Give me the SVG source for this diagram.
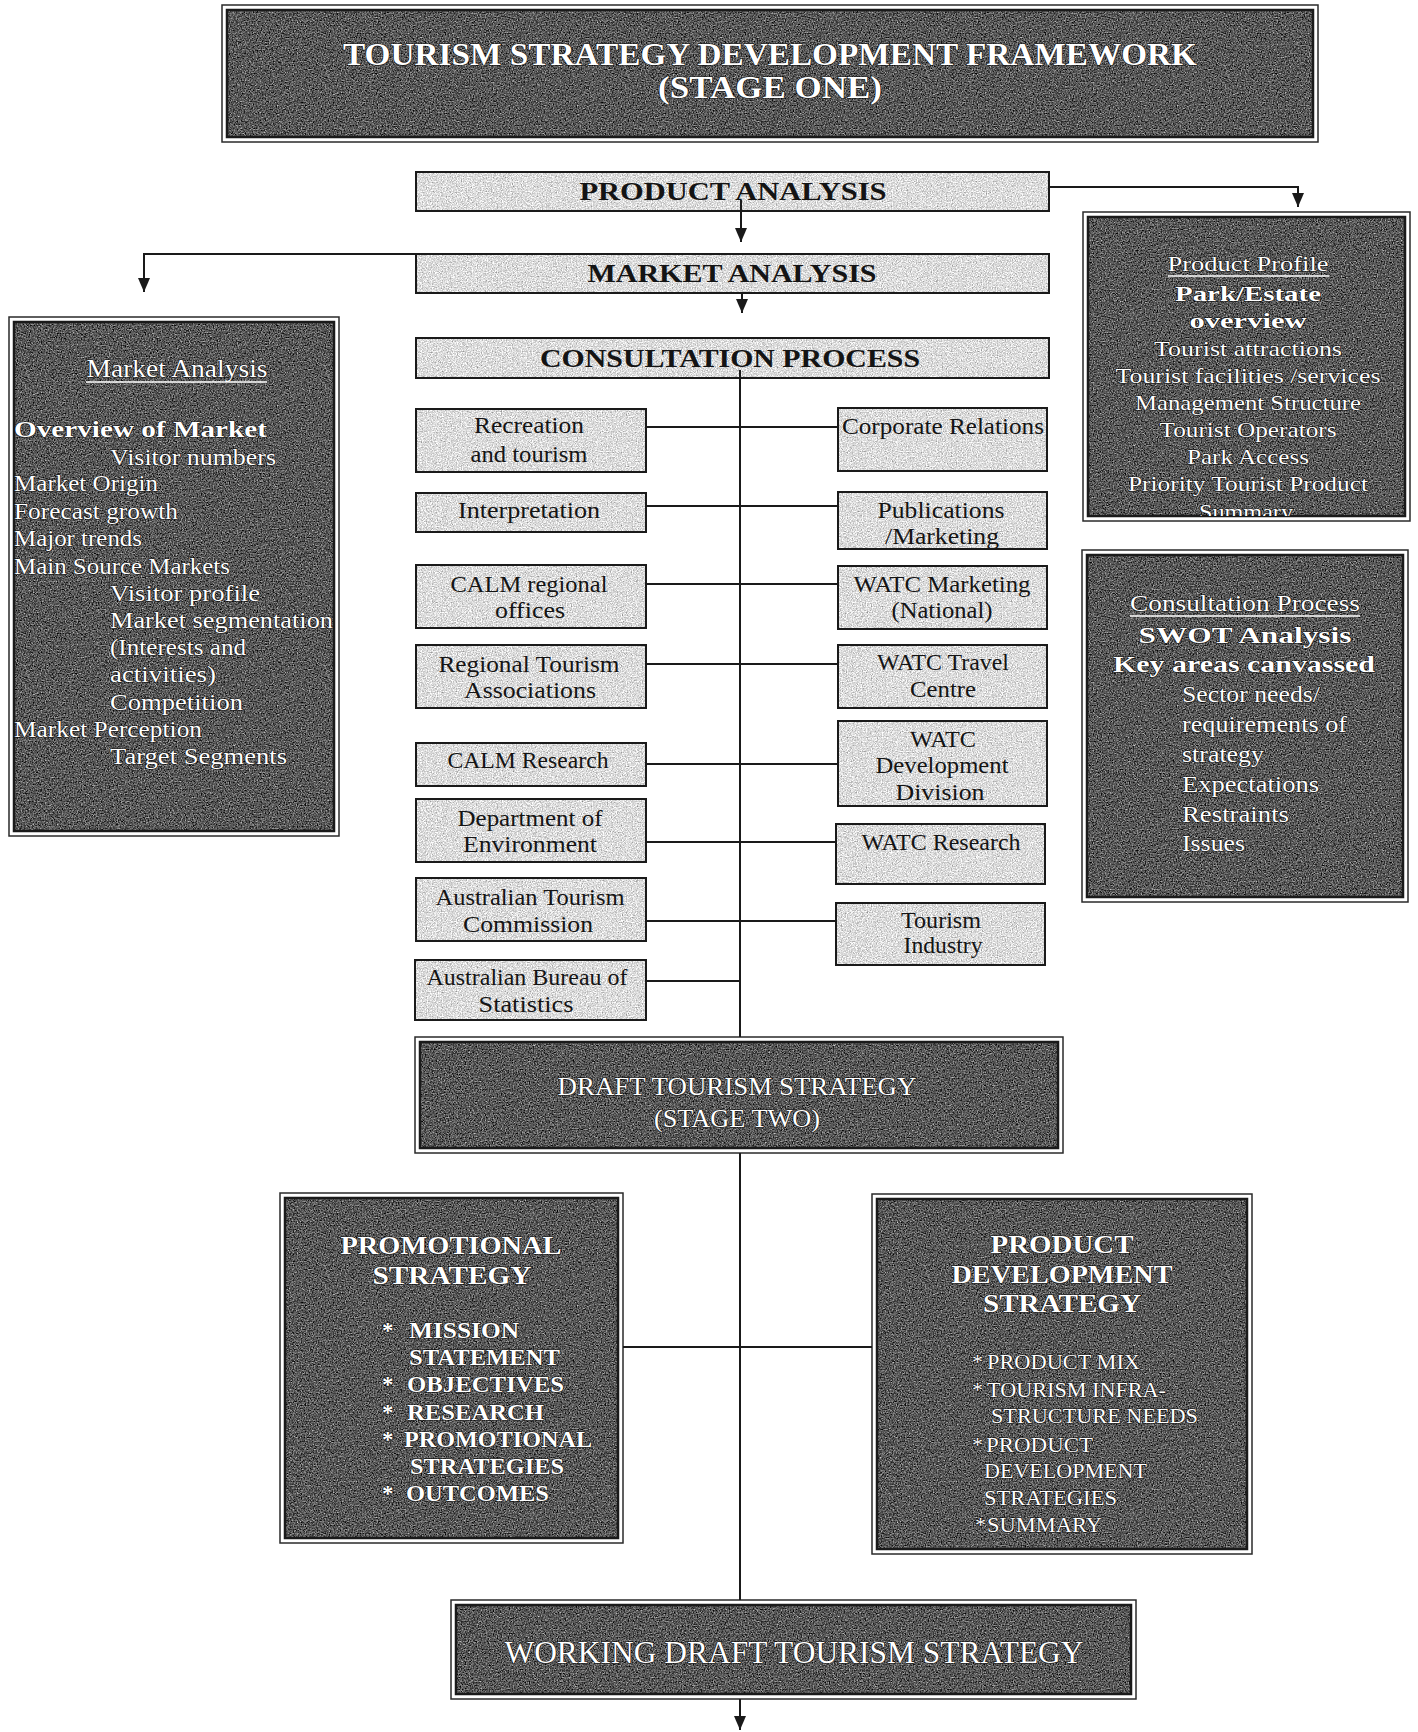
<svg xmlns="http://www.w3.org/2000/svg" width="1418" height="1732" viewBox="0 0 1418 1732">
<defs>
<style>
.out{fill:#fff;stroke:#2a2a2a;stroke-width:1.5}
.din{fill:url(#pD);stroke:#1a1a1a;stroke-width:2.5}
.lb{fill:url(#pL);stroke:#1a1a1a;stroke-width:2}
.conn{fill:none;stroke:#1a1a1a;stroke-width:2}
.tw{font-family:"Liberation Serif","Times New Roman",serif;fill:#fff;stroke:#111;stroke-width:1.2;paint-order:stroke;}
.tk{font-family:"Liberation Serif","Times New Roman",serif;fill:#141414;}
.b{font-weight:bold}
.m{text-anchor:middle}
.ul{stroke:#fff;stroke-width:1.6}
</style>
<filter id="fD" color-interpolation-filters="sRGB">
<feTurbulence type="fractalNoise" baseFrequency="0.75" numOctaves="3" seed="4"/>
<feColorMatrix type="matrix" values="0.6 0.6 0.6 0 -0.56  0.6 0.6 0.6 0 -0.56  0.6 0.6 0.6 0 -0.56  0 0 0 0 1"/>
<feComposite in2="SourceGraphic" operator="in"/>
</filter>
<filter id="fL" color-interpolation-filters="sRGB">
<feTurbulence type="fractalNoise" baseFrequency="0.8" numOctaves="2" seed="7"/>
<feColorMatrix type="matrix" values="0.42 0.42 0.42 0 0.23  0.42 0.42 0.42 0 0.23  0.42 0.42 0.42 0 0.23  0 0 0 0 1"/>
<feComposite in2="SourceGraphic" operator="in"/>
</filter>
<pattern id="pD" patternUnits="userSpaceOnUse" width="300" height="300">
<rect width="300" height="300" fill="#505050"/>
<rect width="300" height="300" fill="#000" filter="url(#fD)"/>
</pattern>
<pattern id="pL" patternUnits="userSpaceOnUse" width="300" height="300">
<rect width="300" height="300" fill="#dcdcdc"/>
<rect width="300" height="300" fill="#000" filter="url(#fL)"/>
</pattern>
<marker id="ah" markerUnits="userSpaceOnUse" markerWidth="14" markerHeight="12" refX="14" refY="6" orient="auto"><path d="M0,0 L14,6 L0,12 z" fill="#1a1a1a"/></marker>
<clipPath id="cpPP"><rect x="1088" y="217" width="317" height="299"/></clipPath>
<clipPath id="cpPub"><rect x="838" y="492" width="209" height="56"/></clipPath>
</defs>
<rect width="1418" height="1732" fill="#fff"/>

<g id="title">
<rect class="out" x="222" y="5" width="1096" height="137"/>
<rect class="din" x="227" y="10" width="1086" height="127"/>
<text class="tw b m" x="770" y="65" font-size="32" stroke-width="1.5" textLength="854" lengthAdjust="spacingAndGlyphs">TOURISM STRATEGY DEVELOPMENT FRAMEWORK</text>
<text class="tw b m" x="770" y="98" font-size="32" stroke-width="1.5" textLength="224" lengthAdjust="spacingAndGlyphs">(STAGE  ONE)</text>
</g>

<g id="product-analysis">
<rect class="lb" x="416" y="172" width="633" height="39"/>
<text class="tk b m" x="733" y="200" font-size="25" textLength="307" lengthAdjust="spacingAndGlyphs">PRODUCT  ANALYSIS</text>
</g>

<g id="market-analysis">
<rect class="lb" x="416" y="254" width="633" height="39"/>
<text class="tk b m" x="732" y="282" font-size="25" textLength="289" lengthAdjust="spacingAndGlyphs">MARKET  ANALYSIS</text>
</g>

<g id="consultation-process">
<rect class="lb" x="416" y="338" width="633" height="40"/>
<text class="tk b m" x="730" y="367" font-size="25" textLength="380" lengthAdjust="spacingAndGlyphs">CONSULTATION  PROCESS</text>
</g>

<g id="market-analysis-detail">
<rect class="out" x="9" y="317" width="330" height="519"/>
<rect class="din" x="14" y="322" width="320" height="509"/>
<text class="tw m" x="177" y="377" font-size="25" textLength="181" lengthAdjust="spacingAndGlyphs">Market Analysis</text>
<line class="ul" x1="86" y1="382" x2="267" y2="382"/>
<g font-size="24">
<text class="tw b" x="14" y="437" textLength="253" lengthAdjust="spacingAndGlyphs">Overview  of  Market</text>
<text class="tw" x="110" y="465" textLength="166" lengthAdjust="spacingAndGlyphs">Visitor numbers</text>
<text class="tw" x="14" y="491" textLength="144" lengthAdjust="spacingAndGlyphs">Market Origin</text>
<text class="tw" x="14" y="519" textLength="164" lengthAdjust="spacingAndGlyphs">Forecast growth</text>
<text class="tw" x="14" y="546" textLength="128" lengthAdjust="spacingAndGlyphs">Major trends</text>
<text class="tw" x="14" y="574" textLength="216" lengthAdjust="spacingAndGlyphs">Main Source Markets</text>
<text class="tw" x="110" y="601" textLength="150" lengthAdjust="spacingAndGlyphs">Visitor profile</text>
<text class="tw" x="110" y="628" textLength="223" lengthAdjust="spacingAndGlyphs">Market  segmentation</text>
<text class="tw" x="110" y="655" textLength="136" lengthAdjust="spacingAndGlyphs">(Interests and</text>
<text class="tw" x="110" y="682" textLength="106" lengthAdjust="spacingAndGlyphs">activities)</text>
<text class="tw" x="110" y="710" textLength="133" lengthAdjust="spacingAndGlyphs">Competition</text>
<text class="tw" x="14" y="737" textLength="188" lengthAdjust="spacingAndGlyphs">Market Perception</text>
<text class="tw" x="110" y="764" textLength="177" lengthAdjust="spacingAndGlyphs">Target  Segments</text>
</g>
</g>

<g id="product-profile">
<rect class="out" x="1083" y="212" width="327" height="309"/>
<rect class="din" x="1088" y="217" width="317" height="299"/>
<g clip-path="url(#cpPP)" font-size="22">
<text class="tw m" x="1248" y="271" textLength="161" lengthAdjust="spacingAndGlyphs">Product Profile</text>
<line class="ul" x1="1168" y1="276" x2="1329" y2="276"/>
<text class="tw b m" x="1248" y="301" textLength="146" lengthAdjust="spacingAndGlyphs">Park/Estate</text>
<text class="tw b m" x="1248" y="328" textLength="117" lengthAdjust="spacingAndGlyphs">overview</text>
<text class="tw m" x="1248" y="356" textLength="188" lengthAdjust="spacingAndGlyphs">Tourist  attractions</text>
<text class="tw m" x="1248" y="383" textLength="265" lengthAdjust="spacingAndGlyphs">Tourist  facilities  /services</text>
<text class="tw m" x="1248" y="410" textLength="226" lengthAdjust="spacingAndGlyphs">Management  Structure</text>
<text class="tw m" x="1248" y="437" textLength="177" lengthAdjust="spacingAndGlyphs">Tourist  Operators</text>
<text class="tw m" x="1248" y="464" textLength="122" lengthAdjust="spacingAndGlyphs">Park  Access</text>
<text class="tw m" x="1248" y="491" textLength="240" lengthAdjust="spacingAndGlyphs">Priority  Tourist  Product</text>
<text class="tw m" x="1246" y="519" textLength="94" lengthAdjust="spacingAndGlyphs">Summary</text>
</g>
</g>

<g id="consultation-detail">
<rect class="out" x="1082" y="550" width="326" height="352"/>
<rect class="din" x="1087" y="555" width="316" height="342"/>
<text class="tw m" x="1245" y="611" font-size="23" textLength="230" lengthAdjust="spacingAndGlyphs">Consultation  Process</text>
<line class="ul" x1="1130" y1="616" x2="1360" y2="616"/>
<text class="tw b m" x="1245" y="643" font-size="24" textLength="213" lengthAdjust="spacingAndGlyphs">SWOT   Analysis</text>
<text class="tw b m" x="1244" y="672" font-size="24" textLength="262" lengthAdjust="spacingAndGlyphs">Key  areas  canvassed</text>
<g font-size="24">
<text class="tw" x="1182" y="702" textLength="138" lengthAdjust="spacingAndGlyphs">Sector needs/</text>
<text class="tw" x="1182" y="732" textLength="165" lengthAdjust="spacingAndGlyphs">requirements of</text>
<text class="tw" x="1182" y="762" textLength="82" lengthAdjust="spacingAndGlyphs">strategy</text>
<text class="tw" x="1182" y="792" textLength="137" lengthAdjust="spacingAndGlyphs">Expectations</text>
<text class="tw" x="1182" y="822" textLength="107" lengthAdjust="spacingAndGlyphs">Restraints</text>
<text class="tw" x="1182" y="851" textLength="63" lengthAdjust="spacingAndGlyphs">Issues</text>
</g>
</g>

<g id="recreation-tourism">
<rect class="lb" x="416" y="409" width="230" height="63"/>
<text class="tk m" x="529" y="433" font-size="23" textLength="110" lengthAdjust="spacingAndGlyphs">Recreation</text>
<text class="tk m" x="529" y="462" font-size="23" textLength="117" lengthAdjust="spacingAndGlyphs">and  tourism</text>
</g>
<g id="interpretation">
<rect class="lb" x="416" y="493" width="230" height="39"/>
<text class="tk m" x="529" y="518" font-size="23" textLength="142" lengthAdjust="spacingAndGlyphs">Interpretation</text>
</g>
<g id="calm-regional">
<rect class="lb" x="416" y="565" width="230" height="63"/>
<text class="tk m" x="529" y="592" font-size="23" textLength="157" lengthAdjust="spacingAndGlyphs">CALM regional</text>
<text class="tk m" x="530" y="618" font-size="23" textLength="70" lengthAdjust="spacingAndGlyphs">offices</text>
</g>
<g id="regional-tourism">
<rect class="lb" x="416" y="645" width="230" height="63"/>
<text class="tk m" x="529" y="672" font-size="23" textLength="181" lengthAdjust="spacingAndGlyphs">Regional  Tourism</text>
<text class="tk m" x="530" y="698" font-size="23" textLength="132" lengthAdjust="spacingAndGlyphs">Associations</text>
</g>
<g id="calm-research">
<rect class="lb" x="416" y="743" width="230" height="43"/>
<text class="tk m" x="528" y="768" font-size="23" textLength="161" lengthAdjust="spacingAndGlyphs">CALM Research</text>
</g>
<g id="dept-environment">
<rect class="lb" x="416" y="799" width="230" height="63"/>
<text class="tk m" x="530" y="826" font-size="23" textLength="145" lengthAdjust="spacingAndGlyphs">Department of</text>
<text class="tk m" x="530" y="852" font-size="23" textLength="134" lengthAdjust="spacingAndGlyphs">Environment</text>
</g>
<g id="atc">
<rect class="lb" x="416" y="878" width="230" height="63"/>
<text class="tk m" x="530" y="905" font-size="23" textLength="189" lengthAdjust="spacingAndGlyphs">Australian  Tourism</text>
<text class="tk m" x="528" y="932" font-size="23" textLength="130" lengthAdjust="spacingAndGlyphs">Commission</text>
</g>
<g id="abs">
<rect class="lb" x="415" y="960" width="231" height="60"/>
<text class="tk m" x="527" y="985" font-size="23" textLength="201" lengthAdjust="spacingAndGlyphs">Australian Bureau of</text>
<text class="tk m" x="526" y="1012" font-size="23" textLength="95" lengthAdjust="spacingAndGlyphs">Statistics</text>
</g>

<g id="corporate-relations">
<rect class="lb" x="838" y="408" width="209" height="63"/>
<text class="tk m" x="943" y="434" font-size="23" textLength="202" lengthAdjust="spacingAndGlyphs">Corporate  Relations</text>
</g>
<g id="publications">
<rect class="lb" x="838" y="492" width="209" height="57"/>
<g clip-path="url(#cpPub)">
<text class="tk m" x="941" y="518" font-size="23" textLength="127" lengthAdjust="spacingAndGlyphs">Publications</text>
<text class="tk m" x="942" y="544" font-size="23" textLength="114" lengthAdjust="spacingAndGlyphs">/Marketing</text>
</g>
</g>
<g id="watc-marketing">
<rect class="lb" x="838" y="566" width="209" height="63"/>
<text class="tk m" x="942" y="592" font-size="23" textLength="177" lengthAdjust="spacingAndGlyphs">WATC Marketing</text>
<text class="tk m" x="942" y="618" font-size="23" textLength="101" lengthAdjust="spacingAndGlyphs">(National)</text>
</g>
<g id="watc-travel">
<rect class="lb" x="838" y="645" width="209" height="63"/>
<text class="tk m" x="943" y="670" font-size="23" textLength="132" lengthAdjust="spacingAndGlyphs">WATC Travel</text>
<text class="tk m" x="943" y="697" font-size="23" textLength="66" lengthAdjust="spacingAndGlyphs">Centre</text>
</g>
<g id="watc-development">
<rect class="lb" x="838" y="721" width="209" height="85"/>
<text class="tk m" x="943" y="747" font-size="23" textLength="66" lengthAdjust="spacingAndGlyphs">WATC</text>
<text class="tk m" x="942" y="773" font-size="23" textLength="133" lengthAdjust="spacingAndGlyphs">Development</text>
<text class="tk m" x="940" y="800" font-size="23" textLength="89" lengthAdjust="spacingAndGlyphs">Division</text>
</g>
<g id="watc-research">
<rect class="lb" x="836" y="824" width="209" height="60"/>
<text class="tk m" x="941" y="850" font-size="23" textLength="159" lengthAdjust="spacingAndGlyphs">WATC Research</text>
</g>
<g id="tourism-industry">
<rect class="lb" x="836" y="903" width="209" height="62"/>
<text class="tk m" x="941" y="928" font-size="23" textLength="80" lengthAdjust="spacingAndGlyphs">Tourism</text>
<text class="tk m" x="943" y="953" font-size="23" textLength="79" lengthAdjust="spacingAndGlyphs">Industry</text>
</g>

<g id="draft-strategy">
<rect class="out" x="415" y="1037" width="648" height="116"/>
<rect class="din" x="420" y="1042" width="638" height="106"/>
<text class="tw m" x="737" y="1095" font-size="26" textLength="359" lengthAdjust="spacingAndGlyphs">DRAFT TOURISM STRATEGY</text>
<text class="tw m" x="737" y="1127" font-size="26" textLength="166" lengthAdjust="spacingAndGlyphs">(STAGE TWO)</text>
</g>

<g id="promotional-strategy">
<rect class="out" x="280" y="1193" width="343" height="350"/>
<rect class="din" x="285" y="1198" width="333" height="340"/>
<text class="tw b m" x="451" y="1254" font-size="26" textLength="221" lengthAdjust="spacingAndGlyphs">PROMOTIONAL</text>
<text class="tw b m" x="452" y="1284" font-size="26" textLength="159" lengthAdjust="spacingAndGlyphs">STRATEGY</text>
<g font-size="23">
<text class="tw b" x="382" y="1338">*</text>
<text class="tw b" x="409" y="1338" textLength="110" lengthAdjust="spacingAndGlyphs">MISSION</text>
<text class="tw b" x="409" y="1365" textLength="151" lengthAdjust="spacingAndGlyphs">STATEMENT</text>
<text class="tw b" x="382" y="1392">*</text>
<text class="tw b" x="407" y="1392" textLength="157" lengthAdjust="spacingAndGlyphs">OBJECTIVES</text>
<text class="tw b" x="382" y="1420">*</text>
<text class="tw b" x="407" y="1420" textLength="137" lengthAdjust="spacingAndGlyphs">RESEARCH</text>
<text class="tw b" x="382" y="1447">*</text>
<text class="tw b" x="404" y="1447" textLength="188" lengthAdjust="spacingAndGlyphs">PROMOTIONAL</text>
<text class="tw b" x="410" y="1474" textLength="154" lengthAdjust="spacingAndGlyphs">STRATEGIES</text>
<text class="tw b" x="382" y="1501">*</text>
<text class="tw b" x="406" y="1501" textLength="143" lengthAdjust="spacingAndGlyphs">OUTCOMES</text>
</g>
</g>

<g id="product-development-strategy">
<rect class="out" x="872" y="1194" width="380" height="360"/>
<rect class="din" x="877" y="1199" width="370" height="350"/>
<text class="tw b m" x="1062" y="1253" font-size="26" textLength="143" lengthAdjust="spacingAndGlyphs">PRODUCT</text>
<text class="tw b m" x="1062" y="1283" font-size="26" textLength="221" lengthAdjust="spacingAndGlyphs">DEVELOPMENT</text>
<text class="tw b m" x="1062" y="1312" font-size="26" textLength="158" lengthAdjust="spacingAndGlyphs">STRATEGY</text>
<g font-size="22">
<text class="tw" x="972" y="1369">*</text>
<text class="tw" x="987" y="1369" textLength="153" lengthAdjust="spacingAndGlyphs">PRODUCT MIX</text>
<text class="tw" x="972" y="1397">*</text>
<text class="tw" x="987" y="1397" textLength="179" lengthAdjust="spacingAndGlyphs">TOURISM INFRA-</text>
<text class="tw" x="991" y="1423" textLength="207" lengthAdjust="spacingAndGlyphs">STRUCTURE NEEDS</text>
<text class="tw" x="972" y="1452">*</text>
<text class="tw" x="986" y="1452" textLength="107" lengthAdjust="spacingAndGlyphs">PRODUCT</text>
<text class="tw" x="984" y="1478" textLength="163" lengthAdjust="spacingAndGlyphs">DEVELOPMENT</text>
<text class="tw" x="984" y="1505" textLength="133" lengthAdjust="spacingAndGlyphs">STRATEGIES</text>
<text class="tw" x="975" y="1532">*</text>
<text class="tw" x="987" y="1532" textLength="115" lengthAdjust="spacingAndGlyphs">SUMMARY</text>
</g>
</g>

<g id="working-draft">
<rect class="out" x="451" y="1600" width="685" height="99"/>
<rect class="din" x="456" y="1605" width="675" height="89"/>
<text class="tw m" x="794" y="1663" font-size="32" stroke-width="1.4" textLength="579" lengthAdjust="spacingAndGlyphs">WORKING DRAFT TOURISM STRATEGY</text>
</g>

<g id="connectors">
<path class="conn" d="M741,200 V242" marker-end="url(#ah)"/>
<path class="conn" d="M1049,187 H1298 V207" marker-end="url(#ah)"/>
<path class="conn" d="M416,254 H144 V292" marker-end="url(#ah)"/>
<path class="conn" d="M742,293 V313" marker-end="url(#ah)"/>
<path class="conn" d="M740,370 V1037"/>
<path class="conn" d="M740,1153 V1600"/>
<path class="conn" d="M740,1699 V1730" marker-end="url(#ah)"/>
<path class="conn" d="M646,427 H838"/>
<path class="conn" d="M646,506 H838"/>
<path class="conn" d="M646,584 H838"/>
<path class="conn" d="M646,664 H838"/>
<path class="conn" d="M646,764 H838"/>
<path class="conn" d="M646,842 H836"/>
<path class="conn" d="M646,921 H836"/>
<path class="conn" d="M646,981 H740"/>
<path class="conn" d="M623,1347 H872"/>
</g>
</svg>
